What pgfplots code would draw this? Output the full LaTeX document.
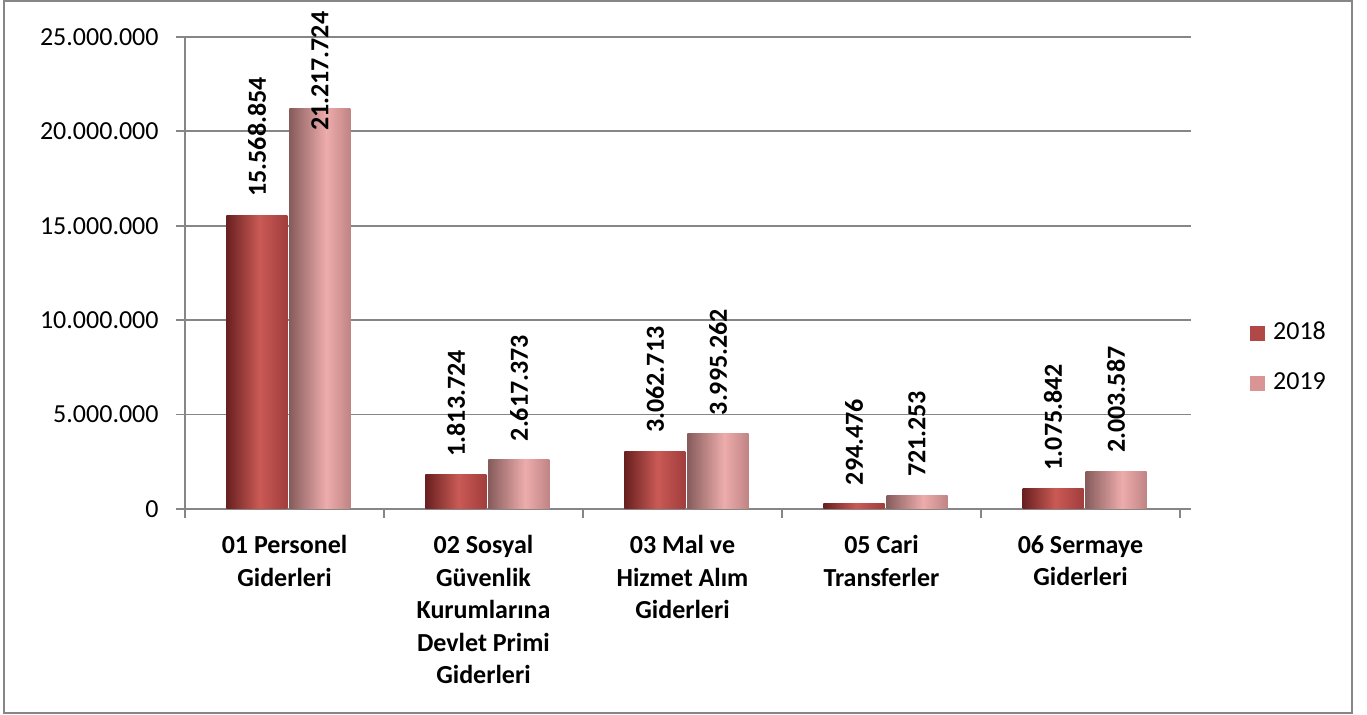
\documentclass[border=0pt]{standalone}
\usepackage{fontspec}
\setmainfont{Carlito}
\usepackage{pgfplots}
\pgfplotsset{compat=1.18}

\definecolor{gridc}{HTML}{868686}
\definecolor{c18}{HTML}{B04848}
\definecolor{c19}{HTML}{D99594}
\definecolor{r0}{RGB}{105,32,32}
\definecolor{r1}{RGB}{202,90,85}
\definecolor{r2}{RGB}{160,62,60}
\definecolor{p0}{RGB}{135,92,92}
\definecolor{p1}{RGB}{238,172,172}
\definecolor{p2}{RGB}{192,132,132}
% visible part of an axis shading is 25bp..75bp
\pgfdeclarehorizontalshading{s18}{100bp}{color(0bp)=(r0); color(25bp)=(r0); color(52bp)=(r1); color(75bp)=(r2); color(100bp)=(r2)}
\pgfdeclarehorizontalshading{s19}{100bp}{color(0bp)=(p0); color(25bp)=(p0); color(55bp)=(p1); color(75bp)=(p2); color(100bp)=(p2)}

% one \addplot per bar, so that each bar gets its own shading
\pgfplotsset{
  b18/.style={shade, shading=s18, draw=none, bar shift=-13.75pt, forget plot},
  b19/.style={shade, shading=s19, draw=none, bar shift=17.75pt, forget plot},
}

\begin{document}
\begin{tikzpicture}
\useasboundingbox (0,0) rectangle (683.5pt,357.5pt);
\draw[gridc, line width=1pt] (2pt,1pt) rectangle (676pt,357pt);
\begin{axis}[
  at={(92.5pt,103pt)}, anchor=south west,
  scale only axis, width=503pt, height=236pt,
  xmin=-0.5, xmax=4.5553, ymin=0, ymax=25000000,
  clip=false,
  ybar, bar width=30.5pt,
  axis x line*=bottom, axis y line*=left,
  axis line style={gridc, line width=0.9pt},
  tick align=outside, major tick length=4.5pt,
  tick style={gridc, line width=0.9pt},
  ymajorgrids, major grid style={gridc, line width=0.9pt},
  ytick={0,5000000,10000000,15000000,20000000,25000000},
  scaled y ticks=false,
  yticklabel style={font=\fontsize{13}{15}\selectfont, inner sep=0pt, xshift=-8.5pt,
    /pgf/number format/.cd, fixed, precision=0, 1000 sep={.}, assume math mode=true},
  xtick={-0.5,0.5,1.5,2.5,3.5,4.5}, xticklabels={{},{},{},{},{},{}},
  extra x ticks={0,1,2,3,4},
  extra x tick labels={{01 Personel\\Giderleri},{02 Sosyal\\Güvenlik\\Kurumlarına\\Devlet Primi\\Giderleri},{03 Mal ve\\Hizmet Alım\\Giderleri},{05 Cari\\Transferler},{06 Sermaye\\Giderleri}},
  extra x tick style={major tick length=0pt,
    xticklabel style={font=\fontsize{13}{16.25}\selectfont\bfseries, align=center, anchor=north, inner sep=0pt, yshift=-13pt}},
  point meta=explicit symbolic,
  nodes near coords,
  every node near coord/.append style={font=\fontsize{13}{15}\selectfont\bfseries, rotate=90, anchor=west, inner sep=0pt, xshift=9pt},
  legend style={at={(1.0586,0.322)}, anchor=west, draw=none, fill=none, inner sep=0pt,
    font=\fontsize{13}{15}\selectfont, row sep=15pt,
    nodes={inner sep=0pt},
    /tikz/every odd column/.append style={column sep=4pt}},
  legend cell align=left,
]
\addlegendimage{legend image code/.code={\fill[c18] (0pt,-4pt) rectangle (7pt,3pt);}}
\addlegendentry{2018}
\addlegendimage{legend image code/.code={\fill[c19] (0pt,-4pt) rectangle (7pt,3pt);}}
\addlegendentry{2019}

% 2018
\addplot[b18] coordinates {(0,15568854) [15.568.854]};
\addplot[b18] coordinates {(1,1813724) [1.813.724]};
\addplot[b18] coordinates {(2,3062713) [3.062.713]};
\addplot[b18] coordinates {(3,294476) [294.476]};
\addplot[b18] coordinates {(4,1075842) [1.075.842]};
% 2019
\addplot[b19, every node near coord/.append style={xshift=-20.5pt}] coordinates {(0,21217724) [21.217.724]};
\addplot[b19] coordinates {(1,2617373) [2.617.373]};
\addplot[b19] coordinates {(2,3995262) [3.995.262]};
\addplot[b19] coordinates {(3,721253) [721.253]};
\addplot[b19] coordinates {(4,2003587) [2.003.587]};
\end{axis}
\end{tikzpicture}
\end{document}
